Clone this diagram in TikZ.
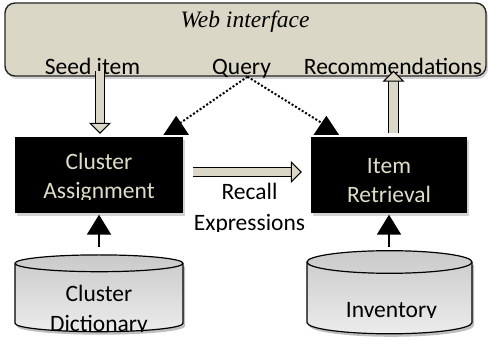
\documentclass[tikz,border=0pt]{standalone}
\usepackage{fontspec}
\setmainfont{Carlito}
\newfontfamily\webfont{Liberation Serif}
\usetikzlibrary{positioning,arrows.meta,shadows,calc}
\definecolor{panel}{RGB}{218,215,198}
\definecolor{cream}{RGB}{224,220,200}
\tikzset{
    lines/.style={align=center,anchor=base,inner sep=0pt,font=\fontsize{23.5}{#1}\selectfont},
    lines/.default=29,
    webtitle/.style={anchor=base,inner sep=0pt,font=\webfont\itshape\fontsize{23.5}{29}\selectfont},
    panelbox/.style={rectangle,draw=black!85,line width=1.4pt,fill=panel,rounded corners=10pt,minimum width=481pt,minimum height=73pt,drop shadow={shadow xshift=2pt,shadow yshift=-3pt,opacity=.35}},
    blackbox/.style={rectangle,fill=black,minimum height=76pt,drop shadow={shadow xshift=2pt,shadow yshift=-3pt,opacity=.35}},
    blk/.style={line width=1.1pt,double=panel,double distance=8.6pt,-{Triangle[length=11pt,width=22pt,fill=panel,line width=1.1pt]}},
    arr/.style={line width=2pt,-{Triangle[length=20pt,width=24pt]}},
    dots/.style={line width=2pt,dotted,-{Triangle[reversed,length=19pt,width=25pt]}},
    drum/.style={draw=black,line width=1.2pt,top color=gray!42,bottom color=gray!15},
    drumshadow/.style={fill=black,opacity=.25},
}

\begin{document}
\begin{tikzpicture}[x=1pt,y=1pt]
\useasboundingbox (0,0) rectangle (488,340);

% web interface
\node[panelbox] (wi) at (245.5,300.5) {};
\node[webtitle] (wt) at (245,312.7) {Web interface};
\node[lines] (sd) at (92.5,265.5) {Seed item};
\node[lines] (qy) at (241.5,265.5) {Query};
\node[lines] (rc) at (393,265.5) {Recommendations};

% processing boxes
\node[blackbox,minimum width=168pt] (ca) at (99,165) {};
\node[blackbox,minimum width=156pt] (ir) at (389,165) {};
\begin{scope}
\clip (15,140.5) rectangle (183,203);
\node[lines,text=cream] (catx) at (99,141) {Cluster\\Assignment};
\end{scope}
\begin{scope}
\clip (311,137.5) rectangle (467,203);
\node[lines,text=cream] (irtx) at (389,137.8) {Item\\Retrieval};
\end{scope}
\begin{scope}
\clip (185,108.5) rectangle (315,160);
\node[lines=31] (rx) at (249.5,109) {Recall\\Expressions};
\end{scope}

% stores
\fill[drumshadow] (17,73.7) -- (17,13.7) arc[start angle=180,end angle=360,x radius=84,y radius=8.4] -- (185,73.7) -- cycle;
\draw[drum] (15,76.7) -- (15,16.7) arc[start angle=180,end angle=360,x radius=84,y radius=8.4] -- (183,76.7) arc[start angle=0,end angle=180,x radius=84,y radius=8.4] -- cycle;
\draw[line width=1.2pt] (15,76.7) arc[start angle=180,end angle=360,x radius=84,y radius=8.4];
\fill[drumshadow] (309,75) -- (309,14.5) arc[start angle=180,end angle=360,x radius=82.5,y radius=11.3] -- (474,75) -- cycle;
\draw[drum] (307,78) -- (307,17.5) arc[start angle=180,end angle=360,x radius=82.5,y radius=11.3] -- (472,78) arc[start angle=0,end angle=180,x radius=82.5,y radius=11.3] -- cycle;
\draw[line width=1.2pt] (307,78) arc[start angle=180,end angle=360,x radius=82.5,y radius=11.3];
\begin{scope}
\clip (15,8) rectangle (183,80);
\node[lines=30] (cdtx) at (99,8.3) {Cluster\\Dictionary};
\end{scope}
\begin{scope}
\clip (307,22.5) rectangle (472,80);
\node[lines] (ivtx) at (391.5,22.7) {Inventory};
\end{scope}
\coordinate (cdtop) at (99,93.3);
\coordinate (ivtop) at (389,93.3);

% connectors
\draw[blk] ($(ca.north |- wi.south)+(1,6)$) -- ($(ca.north)+(1,3)$);
\draw[blk] ($(ir.north)+(4.5,4)$) -- ($(ir.north |- wi.south)+(4.5,6)$);
\draw[blk] ($(ca.east)+(10,3)$) -- ($(ir.west)+(-9,3)$);
\draw[dots] ([xshift=2pt]wi.south) -- ([shift={(-7pt,11pt)}]ca.north east) -- ([shift={(-7pt,2pt)}]ca.north east);
\draw[dots] ([xshift=2pt]wi.south) -- ([shift={(15.5pt,11pt)}]ir.north west) -- ([shift={(15.5pt,2pt)}]ir.north west);
\draw[arr] (cdtop) -- ([yshift=-1.5pt]ca.south);
\draw[arr] (ivtop) -- ([yshift=-1.5pt]ir.south);
\end{tikzpicture}
\end{document}
